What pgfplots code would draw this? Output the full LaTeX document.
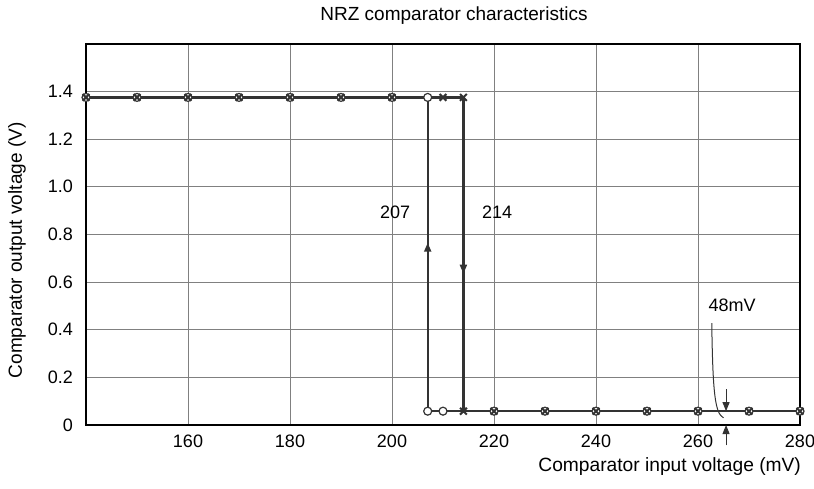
\documentclass[border=0pt]{standalone}
\usepackage{pgfplots}
\pgfplotsset{compat=1.18}
\usepackage{pgfplotstable}
\usepackage{fontspec}
\setmainfont{Liberation Sans}
\usetikzlibrary{arrows.meta}
\definecolor{dline}{HTML}{333333}
\definecolor{gridc}{HTML}{808080}

% series marked with crosses: high up to 214, falls at 214
\pgfplotstableread{
x y
140 1.375
150 1.375
160 1.375
170 1.375
180 1.375
190 1.375
200 1.375
210 1.375
214 1.375
214 0.058
220 0.058
230 0.058
240 0.058
250 0.058
260 0.058
270 0.058
280 0.058
}\crossdata

% series marked with circles: low down to 207, rises at 207
\pgfplotstableread{
x y
140 1.375
150 1.375
160 1.375
170 1.375
180 1.375
190 1.375
200 1.375
207 1.375
207 0.058
210 0.058
220 0.058
230 0.058
240 0.058
250 0.058
260 0.058
270 0.058
280 0.058
}\circdata

\begin{document}
\begin{tikzpicture}[font=\fontsize{9}{11}\selectfont]
\path[use as bounding box] (0pt,0pt) rectangle (407pt,244pt);
\begin{axis}[
  at={(43pt,31.5pt)}, anchor=south west,
  scale only axis, width=357pt, height=190.6pt,
  xmin=140, xmax=280, ymin=0, ymax=1.6,
  xtick={160,180,200,220,240,260,280},
  ytick={0,0.2,0.4,0.6,0.8,1.0,1.2,1.4},
  yticklabels={0,0.2,0.4,0.6,0.8,1.0,1.2,1.4},
  major tick length=0pt,
  grid=major,
  major grid style={gridc, line width=0.5pt},
  axis line style={black, line width=1.1pt},
  /pgf/number format/assume math mode=true,
  xticklabel style={yshift=-1.5pt},
  yticklabel style={xshift=-3pt},
  clip=false,
  title={NRZ comparator characteristics},
  title style={at={([xshift=5.5pt,yshift=8pt]axis description cs:0.5,1)}, anchor=center, font=\fontsize{9.5}{11}\selectfont},
  xlabel={Comparator input voltage (mV)},
  xlabel style={at={([xshift=4pt,yshift=-21pt]axis description cs:1,0)}, anchor=east, font=\fontsize{9.6}{11}\selectfont},
  ylabel={Comparator output voltage (V)},
  ylabel style={at={([xshift=-34.5pt,yshift=-8pt]axis description cs:0,0.5)}, anchor=center, rotate=0, font=\fontsize{9.5}{11}\selectfont},
]
% lines
\addplot[dline, line width=1.1pt, no markers] table {\crossdata};
\addplot[dline, line width=1.1pt, no markers] table {\circdata};
% markers
\addplot[only marks, mark=*, mark size=2pt, mark options={draw=dline, fill=white, line width=0.6pt}] table {\circdata};
\addplot[only marks, mark=x, mark size=2.4pt, mark options={draw=dline, line width=1pt}] table {\crossdata};

% direction arrows on the vertical jumps
\draw[dline, line width=1pt, -{Triangle[length=4.5pt,width=3.5pt]}] (axis cs:207,0.6) -- (axis cs:207,0.765);
\draw[dline, line width=1pt, -{Triangle[length=4.5pt,width=3.5pt]}] (axis cs:214,0.8) -- (axis cs:214,0.635);
\node[anchor=center] at (axis cs:200.6,0.894) {207};
\node[anchor=center] at (axis cs:220.6,0.894) {214};

% 48 mV annotation
\node[anchor=center] at (axis cs:266.7,0.504) {48mV};
\draw[dline, line width=0.5pt] (axis cs:262.7,0.428) .. controls (axis cs:262.9,0.12) and (axis cs:263.4,0.05) .. (axis cs:265.0,0.03);
\draw[dline, line width=0.5pt, -{Triangle[length=4.5pt,width=3.5pt]}] (axis cs:265.5,0.15) -- (axis cs:265.5,0.058);
\draw[dline, line width=0.5pt, -{Triangle[length=4.5pt,width=3.5pt]}] (axis cs:265.5,-0.085) -- (axis cs:265.5,0);
\end{axis}
\end{tikzpicture}
\end{document}
